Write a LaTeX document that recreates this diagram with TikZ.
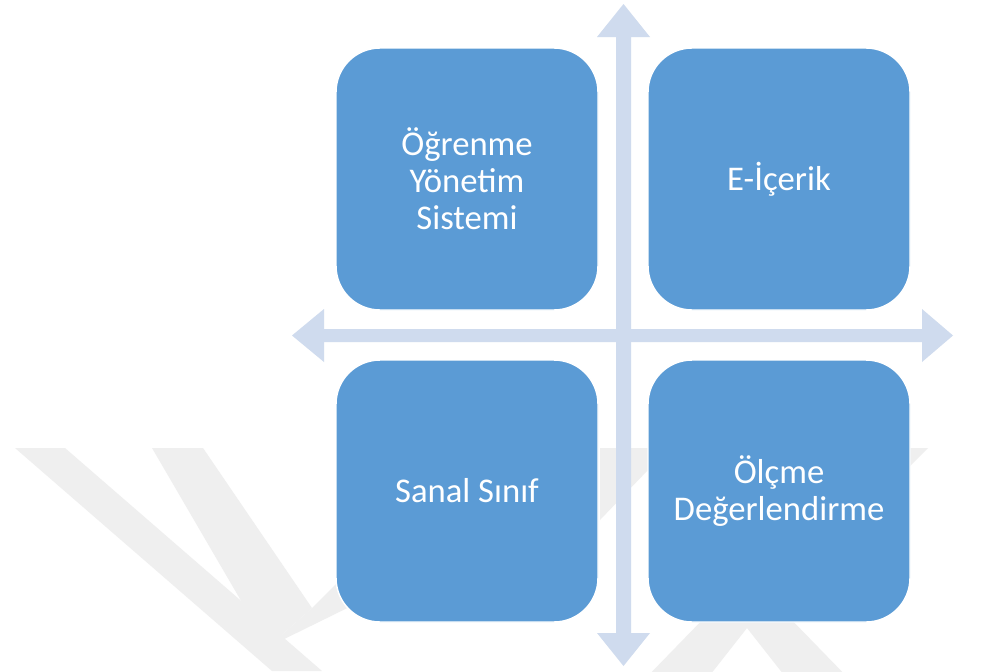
\documentclass[tikz,border=0pt]{standalone}
\usepackage{fontspec}
\setmainfont{Carlito}
\definecolor{boxblue}{HTML}{5B9BD5}
\definecolor{axiscol}{HTML}{CFDBEE}
\definecolor{wmark}{HTML}{EFEFEF}
\tikzset{
  quad/.style={draw=white, line width=1.1pt, fill=boxblue, rounded corners=33pt,
    minimum width=196.5pt, minimum height=196.5pt, inner sep=0pt,
    text=white, align=center, font=\fontsize{26}{27.75}\selectfont},
  axis/.style={fill=axiscol, draw=none},
  wm/.style={fill=wmark, draw=none}
}
\begin{document}
\begin{tikzpicture}[x=0.75pt, y=-0.75pt]
\useasboundingbox (0,0) rectangle (981,671);
\fill[white] (0,0) rectangle (981,671);
% faint watermark
\begin{scope}
\clip (0,0) rectangle (981,671);
\fill[wm] (15,448) -- (65,448) -- (322,671) -- (272,671) -- cycle;
\fill[wm] (152,448) -- (203,448) -- (312,608) -- (268,647) -- cycle;
\fill[wm] (268,647) -- (312,608) -- (400,520) -- (445,560) -- cycle;
\fill[wm, even odd rule] (640,684) -- (747,574) -- (854,684) -- cycle
                         (703,684) -- (747,628) -- (791,684) -- cycle;
\fill[wm] (876,448) -- (928,448) -- (760,616) -- (708,616) -- cycle;
\fill[wm] (600,448) -- (648,448) -- (648,470) -- (600,520) -- cycle;
\end{scope}
% axis arrows
\coordinate (c) at (623.5,335.5);
\fill[axis] (616,37) -- (597,37) -- (623.5,4) -- (650,37) -- (631,37)
  -- (631,633) -- (650,633) -- (623.5,666) -- (597,633) -- (616,633) -- cycle;
\fill[axis] (324,329) -- (324,309) -- (292,335.5) -- (324,362) -- (324,342)
  -- (922,342) -- (922,362) -- (953,335.5) -- (922,309) -- (922,329) -- cycle;
% boxes
\node[quad] (lms) at (467,179) {Öğrenme\\Yönetim\\Sistemi};
\node[quad] (eic) at (779,179) {E-İçerik};
\node[quad] (ss)  at (467,491) {Sanal Sınıf};
\node[quad] (od)  at (779,491) {Ölçme\\Değerlendirme};
\end{tikzpicture}
\end{document}
